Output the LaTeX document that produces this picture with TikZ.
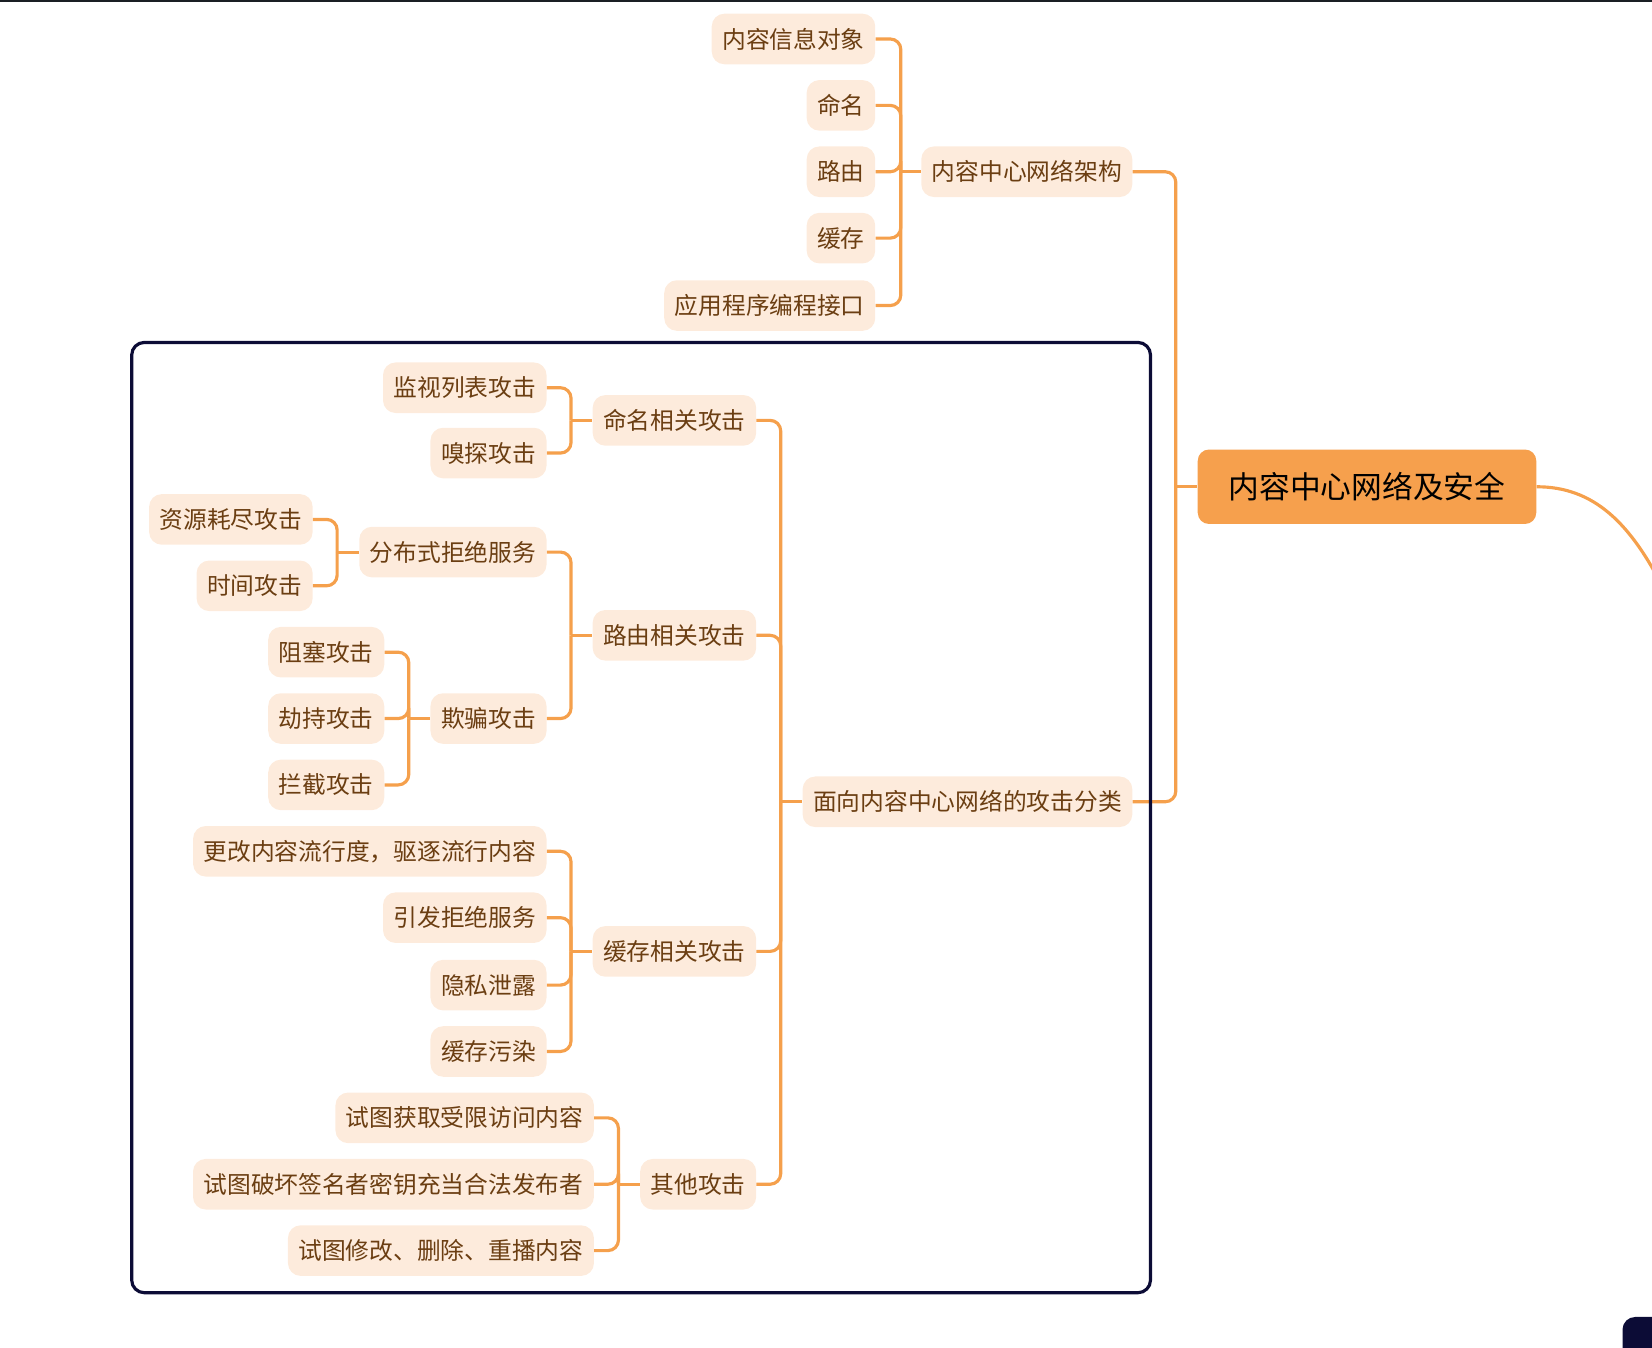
\documentclass[tikz,border=0pt]{standalone}
\usepackage{fontspec}
\setmainfont{Noto Sans CJK SC}
\definecolor{branchline}{HTML}{F5A04C}
\definecolor{topicfill}{HTML}{FDEBDC}
\definecolor{topictext}{HTML}{6B3E12}
\definecolor{rootfill}{HTML}{F6A04D}
\definecolor{framenavy}{HTML}{0C0C36}
\definecolor{edgedark}{HTML}{1A1F24}

\begin{document}
\begin{tikzpicture}[
    x=0.75pt, y=-0.75pt,
    topic/.style={anchor=east, rounded corners=9pt, fill=topicfill, text=topictext,
        font=\fontsize{16.9}{20}\selectfont, minimum height=36pt,
        inner xsep=7.5pt, inner ysep=0pt},
    rootbox/.style={rounded corners=8pt, fill=rootfill, text=black,
        font=\fontsize{21.9}{26}\selectfont, minimum height=53pt,
        minimum width=241pt, inner ysep=0pt},
    link/.style={draw=branchline, line width=2.25pt, rounded corners=7.5pt},
    framebox/.style={draw=framenavy, line width=2.25pt, rounded corners=9pt}
]

\useasboundingbox (0,0) rectangle (1568,1279);
\draw[edgedark, line width=1.5pt] (0,0.5) -- (1568,0.5);

% root
\node[rootbox] (root) at (1297.5,462) {内容中心网络及安全};

% architecture
\node[topic] (arch) at (1075,163) {内容中心网络架构};
\node[topic] (info) at (831,37) {内容信息对象};
\node[topic] (naming) at (831,100) {命名};
\node[topic] (routing) at (831,163) {路由};
\node[topic] (caching) at (831,226) {缓存};
\node[topic] (api) at (831,290) {应用程序编程接口};

% attacks
\node[topic] (attack) at (1075,761) {面向内容中心网络的攻击分类};
\node[topic] (namatk) at (718,399) {命名相关攻击};
\node[topic] (routatk) at (718,603) {路由相关攻击};
\node[topic] (cacheatk) at (718,903) {缓存相关攻击};
\node[topic] (otheratk) at (718,1124) {其他攻击};

\node[topic] (watch) at (519,368) {监视列表攻击};
\node[topic] (sniff) at (519,430) {嗅探攻击};

\node[topic] (ddos) at (519,524) {分布式拒绝服务};
\node[topic] (spoof) at (519,682) {欺骗攻击};
\node[topic] (exhaust) at (297,493) {资源耗尽攻击};
\node[topic] (timing) at (297,556) {时间攻击};
\node[topic] (block) at (365,619) {阻塞攻击};
\node[topic] (hijack) at (365,682) {劫持攻击};
\node[topic] (intercept) at (365,745) {拦截攻击};

\node[topic] (evict) at (519,808) {更改内容流行度，驱逐流行内容};
\node[topic] (dos) at (519,871) {引发拒绝服务};
\node[topic] (privacy) at (519,935) {隐私泄露};
\node[topic] (pollute) at (519,998) {缓存污染};

\node[topic] (access) at (564,1061) {试图获取受限访问内容};
\node[topic] (forge) at (564,1124) {试图破坏签名者密钥充当合法发布者};
\node[topic] (tamper) at (564,1187) {试图修改、删除、重播内容};

% junctions
\coordinate (jroot) at (1116,462);
\coordinate (jarch) at (855,163);
\coordinate (jattack) at (741,761);
\coordinate (jnam) at (542,399);
\coordinate (jrout) at (542,603);
\coordinate (jddos) at (320,524);
\coordinate (jspoof) at (388,682);
\coordinate (jcache) at (542,903);
\coordinate (jother) at (587,1124);
\coordinate (offpage) at (1582,565);

% connectors
\draw[link] (arch.east) -| (jroot);
\draw[link] (attack.east) -| (jroot);
\draw[link] (jroot) -- (root.west);
\draw[link] (root.east) .. controls (1512,462) and (1548,495) .. (offpage);

\draw[link] (info.east) -| (jarch);
\draw[link] (naming.east) -| (jarch);
\draw[link] (routing.east) -| (jarch);
\draw[link] (caching.east) -| (jarch);
\draw[link] (api.east) -| (jarch);
\draw[link] (jarch) -- (arch.west);

\draw[link] (namatk.east) -| (jattack);
\draw[link] (routatk.east) -| (jattack);
\draw[link] (cacheatk.east) -| (jattack);
\draw[link] (otheratk.east) -| (jattack);
\draw[link] (jattack) -- (attack.west);

\draw[link] (watch.east) -| (jnam);
\draw[link] (sniff.east) -| (jnam);
\draw[link] (jnam) -- (namatk.west);

\draw[link] (ddos.east) -| (jrout);
\draw[link] (spoof.east) -| (jrout);
\draw[link] (jrout) -- (routatk.west);

\draw[link] (exhaust.east) -| (jddos);
\draw[link] (timing.east) -| (jddos);
\draw[link] (jddos) -- (ddos.west);

\draw[link] (block.east) -| (jspoof);
\draw[link] (hijack.east) -| (jspoof);
\draw[link] (intercept.east) -| (jspoof);
\draw[link] (jspoof) -- (spoof.west);

\draw[link] (evict.east) -| (jcache);
\draw[link] (dos.east) -| (jcache);
\draw[link] (privacy.east) -| (jcache);
\draw[link] (pollute.east) -| (jcache);
\draw[link] (jcache) -- (cacheatk.west);

\draw[link] (access.east) -| (jother);
\draw[link] (forge.east) -| (jother);
\draw[link] (tamper.east) -| (jother);
\draw[link] (jother) -- (otheratk.west);

% frame round the attack branch
\draw[framebox] (125,325) rectangle (1092,1227);
\fill[framenavy, rounded corners=9pt] (1540,1250) rectangle (1600,1310);

\end{tikzpicture}
\end{document}
